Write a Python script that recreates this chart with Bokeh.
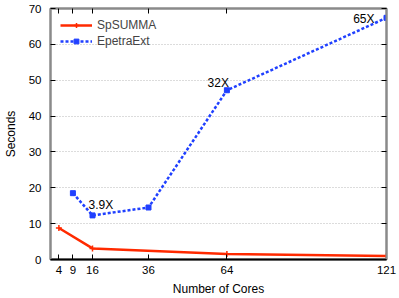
from bokeh.plotting import figure
from bokeh.models import (Range1d, FixedTicker, LinearAxis, Legend, LegendItem,
                          ColumnDataSource)
from bokeh.core.properties import value
from bokeh.embed import file_html
from bokeh.resources import INLINE

# ---- data ----
x_ticks = [4, 9, 16, 36, 64, 121]
sp_cores = [4, 16, 64, 121]
sp_seconds = [8.8, 3.1, 1.5, 1.0]
ep_cores = [9, 16, 36, 64, 121]
ep_seconds = [18.5, 12.3, 14.5, 47.2, 67.4]
ann_cores = [16, 64, 121]
ann_seconds = [12.3, 47.2, 67.4]
ann_labels = ["3.9X", "32X", "65X"]
y_ticks = [0, 10, 20, 30, 40, 50, 60, 70]

FONT = "Liberation Sans"
RED = "#ff2a00"
BLUE = "#2040ff"
GRAY = "#8a8a8a"

p = figure(width=399, height=298, output_backend="svg", toolbar_location=None,
           x_range=Range1d(1, 121), y_range=Range1d(0, 70),
           min_border_left=49, min_border_right=13, min_border_top=8,
           min_border_bottom=38)
p.background_fill_color = "white"
p.border_fill_color = "white"
p.outline_line_color = GRAY
p.outline_line_width = 2

# axes
p.xaxis.ticker = FixedTicker(ticks=x_ticks)
p.yaxis.ticker = FixedTicker(ticks=y_ticks)
for ax in (p.xaxis[0], p.yaxis[0]):
    ax.major_label_text_font = FONT
    ax.major_label_text_font_size = "11.5px"
    ax.major_label_text_color = "black"
    ax.axis_label_text_font = FONT
    ax.axis_label_text_font_size = "12px"
    ax.axis_label_text_font_style = "normal"
    ax.axis_label_text_color = "black"
    ax.major_tick_in = 5
    ax.major_tick_out = 0
    ax.minor_tick_line_color = None
    ax.major_tick_line_color = "black"
    ax.axis_line_width = 2
p.xaxis.axis_line_color = "black"
p.yaxis.axis_line_color = GRAY
p.xaxis.axis_label = "Number of Cores"
p.yaxis.axis_label = "Seconds"
p.xaxis.major_label_standoff = 6
p.xaxis.axis_label_standoff = 5
p.yaxis.major_label_standoff = 9
p.yaxis.axis_label_standoff = 8

# mirror axes (ticks only)
top = LinearAxis(ticker=FixedTicker(ticks=x_ticks),
                 major_label_overrides={t: "" for t in x_ticks})
right = LinearAxis(ticker=FixedTicker(ticks=y_ticks),
                   major_label_overrides={t: "" for t in y_ticks})
for ax in (top, right):
    ax.major_label_standoff = 0
    ax.major_label_text_font_size = "1px"
    ax.major_tick_in = 5
    ax.major_tick_out = 0
    ax.minor_tick_line_color = None
    ax.major_tick_line_color = "black"
    ax.axis_line_color = GRAY
    ax.axis_line_width = 2
p.add_layout(top, "above")
p.add_layout(right, "right")

# grid
p.xgrid.grid_line_color = None
p.ygrid.grid_line_color = "#b8b8b8"
p.ygrid.grid_line_dash = "1 2"
p.ygrid.grid_line_width = 1

# series
sp = ColumnDataSource(dict(x=sp_cores, y=sp_seconds))
ep = ColumnDataSource(dict(x=ep_cores, y=ep_seconds))
sp_line = p.line("x", "y", source=sp, line_color=RED, line_width=2.5)
sp_pts = p.scatter("x", "y", source=sp, marker="cross", size=6, line_color=RED,
                   line_width=1.5)
ep_line = p.line("x", "y", source=ep, line_color=BLUE, line_width=2.5,
                 line_dash="3 2")
ep_pts = p.scatter("x", "y", source=ep, marker="square", size=5,
                   fill_color=BLUE, line_color=BLUE)

# annotations
ann_x_off = [-4, 2, -12]
ann_y_off = [-10, -7, 1]
ann_align = ["left", "right", "right"]
ann = ColumnDataSource(dict(x=ann_cores, y=ann_seconds, t=ann_labels,
                            xo=ann_x_off, yo=ann_y_off, al=ann_align))
p.text("x", "y", text="t", source=ann, x_offset="xo", y_offset="yo",
       text_align="al", text_baseline="middle", text_font=value(FONT),
       text_font_size="12px", text_color="black")

legend = Legend(items=[LegendItem(label="SpSUMMA", renderers=[sp_line, sp_pts]),
                       LegendItem(label="EpetraExt", renderers=[ep_line, ep_pts])],
                location="top_left")
legend.border_line_color = None
legend.background_fill_alpha = 0
legend.label_text_font = FONT
legend.label_text_font_size = "12px"
legend.glyph_width = 32
legend.glyph_height = 12
legend.label_height = 12
legend.spacing = 2
legend.padding = 2
legend.margin = 10
p.add_layout(legend)

open("out.html", "w").write(file_html(p, INLINE))
